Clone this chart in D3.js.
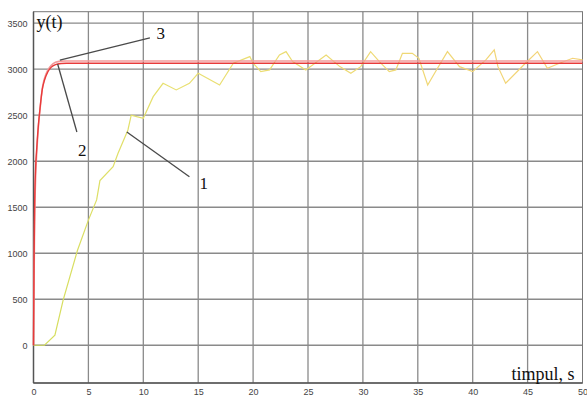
<!DOCTYPE html>
<html>
<head>
<meta charset="utf-8">
<script src="https://cdn.jsdelivr.net/npm/d3@7"></script>
<style>
  body { margin: 0; background: #fff; }
  svg { display: block; }
</style>
</head>
<body>
<svg id="chart" width="587" height="400"></svg>
<script>
// curve 1 (yellow, noisy response)
var t1 = [0, 1, 1.95, 2.7, 4.0, 5.0, 5.75, 6.05, 7.25, 7.7, 8.6, 8.9, 9.4, 10.0, 10.9, 11.8, 13.0, 14.2,
          15.0, 16.95, 18.2, 19.7, 20.0, 20.7, 21.5, 22.4, 23.0, 23.6, 24.8, 26.65, 27.9, 28.9, 29.8, 30.7,
          31.5, 32.4, 33.0, 33.6, 34.5, 35.1, 35.9, 36.7, 37.7, 38.8, 40.0, 41.2, 41.96, 42.3, 43.0, 44.8,
          45.9, 46.8, 47.9, 49.1, 50];
var y1 = [0, 0, 110, 490, 1030, 1360, 1580, 1790, 1940, 2086, 2340, 2500, 2484, 2467, 2702, 2847, 2775, 2847,
          2956, 2829, 3065, 3137, 3065, 2974, 2992, 3155, 3191, 3083, 2992, 3155, 3028, 2956, 3028, 3191,
          3083, 2974, 2992, 3173, 3173, 3119, 2829, 2992, 3191, 3028, 2974, 3101, 3210, 3028, 2847, 3065,
          3191, 3010, 3065, 3119, 3101];

// curves 2 and 3 (red, fast responses)
var tRed = [0, 0.05, 0.1, 0.2, 0.3, 0.45, 0.6, 0.8, 1.0, 1.3, 1.6, 2.0, 2.5, 3, 50];
var y2 = [0, 900, 1500, 1950, 2150, 2400, 2580, 2780, 2880, 2970, 3020, 3050, 3062, 3065, 3065];
var y3 = [0, 700, 1300, 1850, 2100, 2380, 2570, 2790, 2900, 2990, 3040, 3075, 3088, 3090, 3090];

var xTicks = [0, 5, 10, 15, 20, 25, 30, 35, 40, 45, 50];
var yTicks = [0, 500, 1000, 1500, 2000, 2500, 3000, 3500];

// leader lines for the curve numbers: [t0, v0, t1, v1], label position [t, v]
var leaders = [
  { label: "3", line: [2.4, 3100, 10.6, 3340], pos: [11.6, 3330] },
  { label: "2", line: [2.2, 3057, 3.95, 2318], pos: [4.45, 2060] },
  { label: "1", line: [8.5, 2318, 14.2, 1831], pos: [15.5, 1700] }
];

var svg = d3.select("#chart");

var x = d3.scaleLinear().domain([0, 50]).range([33.5, 582.5]);
var y = d3.scaleLinear().domain([-410, 3625]).range([383, 11.7]);

// grid
svg.append("g").selectAll("line")
  .data(xTicks.slice(1, -1))
  .enter().append("line")
  .attr("x1", d => x(d)).attr("x2", d => x(d))
  .attr("y1", y(3625)).attr("y2", y(-410))
  .style("stroke", "#8a8a8a").style("stroke-width", 1.3);

svg.append("g").selectAll("line")
  .data(yTicks)
  .enter().append("line")
  .attr("x1", x(0)).attr("x2", x(50))
  .attr("y1", d => y(d)).attr("y2", d => y(d))
  .style("stroke", "#8a8a8a").style("stroke-width", 1.3);

// frame
svg.append("rect")
  .attr("x", x(0)).attr("y", y(3625))
  .attr("width", x(50) - x(0)).attr("height", y(-410) - y(3625))
  .style("fill", "none").style("stroke", "#777").style("stroke-width", 1);
svg.append("line")
  .attr("x1", x(0)).attr("x2", x(0)).attr("y1", y(3625)).attr("y2", y(-410))
  .style("stroke", "#555").style("stroke-width", 1.5);
svg.append("line")
  .attr("x1", x(0)).attr("x2", x(50)).attr("y1", y(-410)).attr("y2", y(-410))
  .style("stroke", "#555").style("stroke-width", 1.5);

// axes tick labels
var xAxis = d3.axisBottom(x).tickValues(xTicks).tickSize(0).tickPadding(6).tickFormat(d3.format("d"));
var gx = svg.append("g").attr("transform", "translate(0," + y(-410) + ")").call(xAxis);
var yAxis = d3.axisLeft(y).tickValues(yTicks).tickSize(0).tickPadding(6).tickFormat(d3.format("d"));
var gy = svg.append("g").attr("transform", "translate(" + x(0) + ",0)").call(yAxis);
[gx, gy].forEach(function(g) {
  g.select(".domain").remove();
  g.selectAll("text")
    .style("font-family", "Liberation Sans, Arial, sans-serif")
    .style("font-size", "9px")
    .style("fill", "#444");
});

// yellow gradient
var defs = svg.append("defs");
var grad = defs.append("linearGradient")
  .attr("id", "yel").attr("gradientUnits", "userSpaceOnUse")
  .attr("x1", x(0)).attr("x2", x(50)).attr("y1", 0).attr("y2", 0);
grad.append("stop").attr("offset", "0").attr("stop-color", "#d2dd5a");
grad.append("stop").attr("offset", "0.25").attr("stop-color", "#e8e070");
grad.append("stop").attr("offset", "1").attr("stop-color", "#f4d278");

var line = d3.line().x(d => x(d[0])).y(d => y(d[1]));
var smooth = d3.line().x(d => x(d[0])).y(d => y(d[1])).curve(d3.curveMonotoneX);

svg.append("path")
  .datum(t1.map((t, i) => [t, y1[i]]))
  .attr("d", line)
  .style("fill", "none").style("stroke", "url(#yel)").style("stroke-width", 1.2);

svg.append("path")
  .datum(tRed.map((t, i) => [t, y3[i]]))
  .attr("d", smooth)
  .style("fill", "none").style("stroke", "#f29a9a").style("stroke-width", 1.6);

svg.append("path")
  .datum(tRed.map((t, i) => [t, y2[i]]))
  .attr("d", smooth)
  .style("fill", "none").style("stroke", "#e83a3a").style("stroke-width", 1.4);

// leaders + numbers
svg.append("g").selectAll("line")
  .data(leaders)
  .enter().append("line")
  .attr("x1", d => x(d.line[0])).attr("y1", d => y(d.line[1]))
  .attr("x2", d => x(d.line[2])).attr("y2", d => y(d.line[3]))
  .style("stroke", "#4a4a4a").style("stroke-width", 1.3);

svg.append("g").selectAll("text")
  .data(leaders)
  .enter().append("text")
  .attr("x", d => x(d.pos[0])).attr("y", d => y(d.pos[1]))
  .attr("text-anchor", "middle")
  .style("font-family", "Liberation Serif, Times New Roman, serif")
  .style("font-size", "17px")
  .style("fill", "#111")
  .text(d => d.label);

// axis titles
var yt = svg.append("text")
  .attr("x", x(0) + 3).attr("y", 28)
  .style("font-family", "Liberation Serif, Times New Roman, serif")
  .style("font-size", "18px")
  .style("fill", "#111");
yt.append("tspan").text("y");
yt.append("tspan").text("(t)");

svg.append("text")
  .attr("x", x(50) - 8).attr("y", 380)
  .attr("text-anchor", "end")
  .style("font-family", "Liberation Serif, Times New Roman, serif")
  .style("font-size", "18px")
  .style("fill", "#111")
  .text("timpul, s");
</script>
</body>
</html>
